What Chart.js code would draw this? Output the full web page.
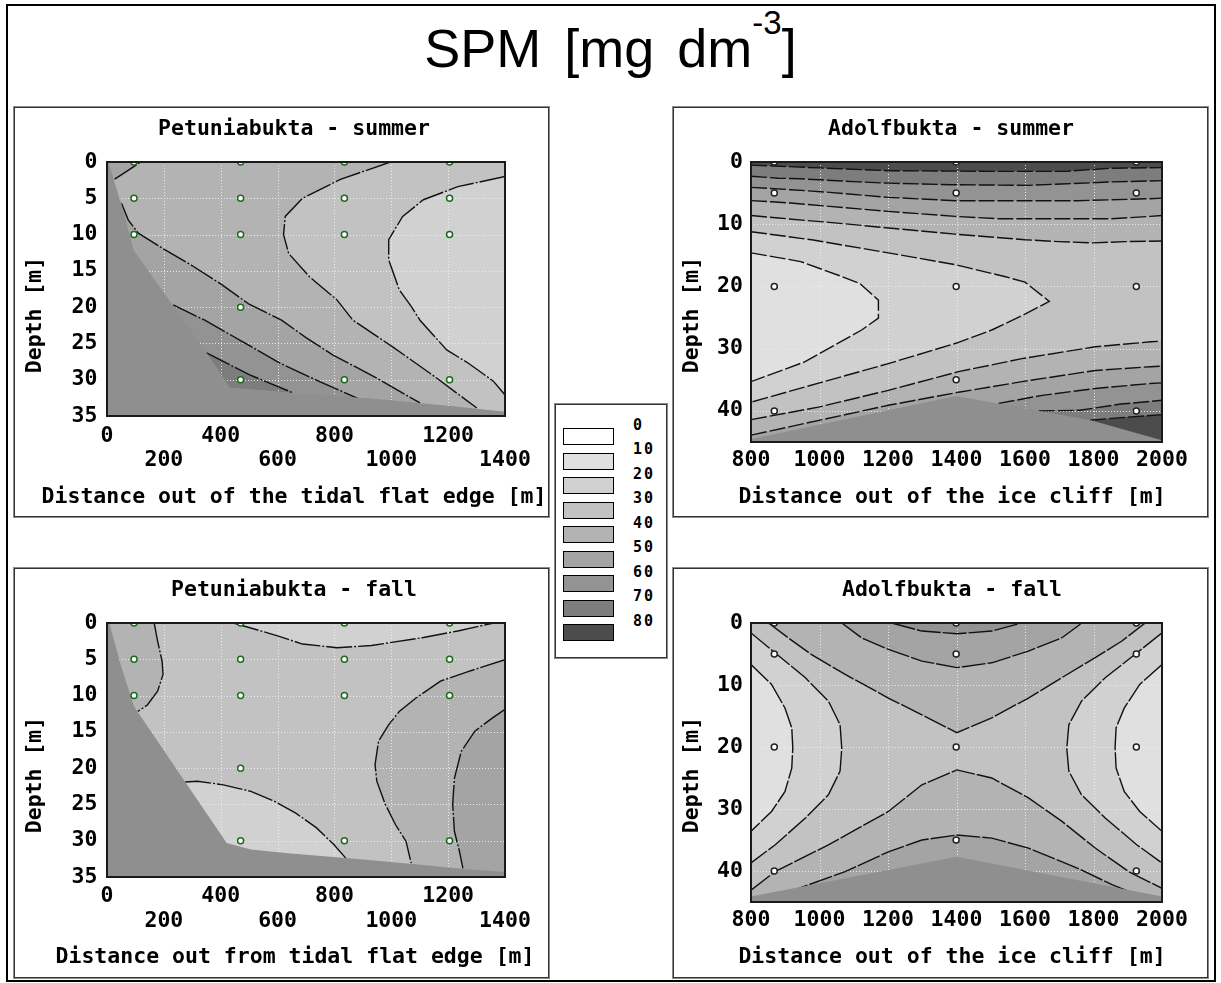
<!DOCTYPE html>
<html>
<head>
<meta charset="utf-8">
<script src="https://cdn.jsdelivr.net/npm/chart.js@4.4.1/dist/chart.umd.min.js"></script>
<style>
  html, body { margin: 0; padding: 0; background: #fff; }
  body { width: 1221px; height: 983px; position: relative; overflow: hidden; }
  #frame { position: absolute; left: 6px; top: 4px; width: 1210px; height: 978px; border: 2px solid #000; box-sizing: border-box; }
  #title { position: absolute; left: 0; top: 22px; width: 1221px; text-align: center; font-family: "Liberation Sans", Arial, sans-serif; font-size: 54px; line-height: 53px; word-spacing: 8px; color: #000; }
  #title .sup { font-size: 33px; line-height: 0; position: relative; top: -33px; }
  .panel { position: absolute; box-sizing: border-box; border: 1px solid #8a8a8a; box-shadow: inset 1px 1px 0 #333, inset -1px -1px 0 #333; background: #fff; }
  .panel canvas { position: absolute; left: 0; top: 0; }
  #legend { position: absolute; left: 554px; top: 403px; width: 114px; height: 256px; box-sizing: border-box; border: 1px solid #8a8a8a; box-shadow: inset 1px 1px 0 #333, inset -1px -1px 0 #333; background: #fff; }
  #legend .sw { position: absolute; left: 8px; width: 51px; height: 17px; box-sizing: border-box; border: 1px solid #000; }
  #legend .lb { position: absolute; left: 78px; height: 16px; line-height: 16px; font-family: "DejaVu Sans Mono", monospace; font-weight: bold; font-size: 15px; letter-spacing: 2px; color: #000; -webkit-font-smoothing: antialiased; }
</style>
</head>
<body>
<div id="frame"></div>
<div id="title">SPM [mg dm<span class="sup">-3</span>]</div>
<div class="panel" style="left:13px;top:106px;width:537px;height:412px"><canvas id="c1" width="535" height="410"></canvas></div>
<div class="panel" style="left:672px;top:106px;width:537px;height:412px"><canvas id="c2" width="535" height="410"></canvas></div>
<div class="panel" style="left:13px;top:567px;width:537px;height:412px"><canvas id="c3" width="535" height="410"></canvas></div>
<div class="panel" style="left:672px;top:567px;width:537px;height:412px"><canvas id="c4" width="535" height="410"></canvas></div>
<div id="legend"></div>
<script>
// legend classes (mg dm-3) and their shades
const legendLabels = ['0', '10', '20', '30', '40', '50', '60', '70', '80'];
const levelColors = ['#ffffff', '#e0e0e0', '#d1d1d1', '#c2c2c2', '#b3b3b3', '#a4a4a4', '#939393', '#7d7d7d', '#4c4c4c'];
const maskColor = '#8f8f8f';

// axis ticks
const petXTicks = [0, 200, 400, 600, 800, 1000, 1200, 1400];
const petYTicks = [0, 5, 10, 15, 20, 25, 30, 35];
const adXTicks = [800, 1000, 1200, 1400, 1600, 1800, 2000];
const adYTicks = [0, 10, 20, 30, 40];

// ---- Petuniabukta - summer  [distance m, depth m]
const petSumStX = [95, 470, 835, 1205];
const petSumStDepth = [[0, 5, 10], [0, 5, 10, 20, 30], [0, 5, 10, 30], [0, 5, 10, 30]];
const petSumL1 = [[27, 2.35], [69, 1.3], [118, 0]];
const petSumB = [[51, 5.7], [75, 8], [110, 9.8], [200, 12], [300, 14.3], [400, 16.8], [500, 19.6], [614, 21.8], [700, 24.2], [795, 26.6], [950, 29.8], [1101, 33.2]];
const petSumC = [[233, 19.7], [344, 21.8], [470, 24.6], [608, 27.7], [750, 30.3], [890, 32.7]];
const petSumTri = [[350, 26.3], [500, 29.3], [654, 31.8]];
const petSumP = [[997, 0], [821, 2.4], [688, 5], [627, 7.5], [621, 10], [639, 12.6], [712, 15.8], [809, 19], [865, 21.8], [1006, 25.5], [1150, 29.5], [1301, 33.9]];
const petSumQ = [[1400, 2], [1234, 3.4], [1113, 5.2], [1040, 7.5], [991, 10.7], [991, 13.5], [1028, 17.6], [1070, 19.9], [1101, 21.8], [1195, 25.9], [1270, 27.7], [1359, 30.2], [1400, 32.1]];
const petSumMask = [[0, 0], [5, 0], [27, 2.9], [57, 6.6], [93, 12.1], [227, 19.5], [350, 26.3], [432, 31.1], [506, 31.4], [700, 32], [930, 32.6], [1200, 33.6], [1400, 34.4], [1400, 35], [0, 35]];

// ---- Petuniabukta - fall
const petFallStX = [95, 470, 835, 1205];
const petFallStDepth = [[0, 5, 10], [0, 5, 10, 20, 30], [0, 5, 10, 30], [0, 5, 10, 30]];
const petFallL1 = [[166, 0], [178, 2.5], [194, 5.3], [197, 7.1], [178, 9.4], [142, 11.3], [108, 12.2]];
const petFallL2 = [[445, 0], [603, 1.8], [688, 2.9], [809, 3.4], [930, 3.1], [1113, 2], [1234, 1.1], [1360, 0]];
const petFallL3 = [[1400, 5.05], [1270, 6.7], [1173, 8], [1088, 10.3], [1028, 12.2], [991, 14], [955, 16.3], [943, 19.5], [949, 21.8], [979, 25], [1015, 27.8], [1052, 30.1], [1070, 33.1]];
const petFallL4 = [[1400, 11.9], [1355, 13.1], [1294, 14.9], [1246, 17.7], [1222, 21.4], [1216, 25], [1222, 28.7], [1240, 31.5], [1252, 33.8]];
const petFallL5 = [[275, 21.9], [318, 21.8], [409, 22.3], [506, 23.2], [591, 24.6], [664, 26.2], [736, 28.2], [797, 30.5], [840, 32.4]];
const petFallMask = [[0, 0], [8, 0], [50, 6], [95, 11.5], [421, 30.3], [506, 31.2], [627, 31.7], [870, 32.5], [1076, 33.2], [1258, 33.9], [1400, 34.3], [1400, 35], [0, 35]];

// ---- Adolfbukta - summer
const adSumStX = [868, 1399, 1925];
const adSumStDepth = [[0, 5, 20, 40], [0, 5, 20, 35], [0, 5, 20, 40]];
const adSumL80 = [[800, 0.5], [1000, 0.95], [1200, 1.4], [1500, 1.5], [1720, 1.5], [1850, 1.0], [2000, 0.9]];
const adSumL70 = [[800, 2.3], [880, 2.6], [945, 2.7], [1115, 3.2], [1201, 3.4], [1387, 3.65], [1610, 3.75], [1707, 3.54], [1854, 3.2], [2000, 3.0]];
const adSumL60 = [[800, 4.07], [915, 4.45], [1030, 4.88], [1201, 5.68], [1299, 5.95], [1396, 6.22], [1750, 6.22], [1966, 5.9], [2000, 5.8]];
const adSumL50 = [[800, 6.2], [860, 6.4], [915, 6.6], [1030, 7.13], [1201, 7.94], [1396, 8.74], [1523, 9.12], [1854, 9.12], [1966, 8.74], [2000, 8.6]];
const adSumL40 = [[800, 8.6], [880, 9.0], [960, 9.4], [1020, 9.65], [1201, 10.6], [1396, 11.6], [1600, 12.5], [1700, 12.8], [1800, 13.0], [1890, 12.8], [2000, 12.7]];
const adSumL30 = [[800, 11.2], [977, 12.5], [1201, 14.6], [1396, 16.5], [1540, 18.4], [1600, 19.3], [1671, 22.4], [1595, 24.6], [1503, 27.0], [1406, 29.0], [1201, 32.4], [1000, 35.5], [800, 38.6]];
const adSumL20 = [[800, 14.6], [945, 16.0], [1065, 18.4], [1117, 19.5], [1172, 22.2], [1172, 25.1], [1123, 27.0], [958, 32.1], [800, 35.3]];
const adSumL40b = [[800, 41.4], [997, 39.4], [1201, 36.7], [1406, 33.7], [1591, 31.6], [1805, 29.7], [1966, 28.9], [2000, 28.8]];
const adSumL50b = [[800, 43.9], [1201, 39.1], [1406, 37.0], [1591, 35.3], [1805, 33.5], [1966, 32.9], [2000, 32.8]];
const adSumL60b = [[1523, 38.8], [1650, 37.5], [1805, 36.4], [1966, 35.6], [2000, 35.5]];
const adSumL70b = [[1640, 40.0], [1760, 39.9], [1880, 38.9], [2000, 38.3]];
const adSumL80b = [[1790, 41.5], [1900, 41.0], [2000, 40.6]];
const adSumMask = [[800, 45], [800, 44.5], [1399, 37.6], [1792, 41.5], [2000, 44.7], [2000, 45]];

// ---- Adolfbukta - fall
const adFallStX = [868, 1399, 1925];
const adFallStDepth = [[0, 5, 20, 40], [0, 5, 20, 35], [0, 5, 20, 40]];
const adFallA1 = [[1211, 0], [1299, 1.3], [1401, 1.73], [1503, 1.3], [1591, 0]];
const adFallA2 = [[1065, 0], [1123, 2.4], [1201, 4.26], [1299, 6.15], [1401, 7.2], [1503, 6.42], [1610, 4.53], [1708, 2.38], [1766, 0]];
const adFallA3 = [[851, 0], [909, 2.4], [977, 5.1], [1075, 8.3], [1201, 12.1], [1299, 14.8], [1401, 17.7], [1503, 15.3], [1610, 12.1], [1708, 8.8], [1805, 5.6], [1883, 2.9], [1951, 0]];
const adFallA4 = [[800, 43.1], [870, 40.1], [1026, 35.8], [1201, 30.4], [1299, 26.1], [1401, 23.7], [1503, 25], [1610, 28.2], [1708, 32], [1805, 36.3], [1903, 40.1], [2000, 42.8]];
const adFallA5 = [[899, 43.6], [1075, 40.1], [1201, 36.9], [1299, 35], [1401, 34.2], [1503, 34.7], [1610, 36.3], [1756, 39.6], [1854, 42.2], [1903, 43.3]];
const adFallS2L = [[800, 1.6], [870, 4.8], [958, 8.8], [1026, 12.6], [1060, 16.4], [1065, 20.2], [1060, 23.9], [1026, 27.7], [958, 31.5], [870, 35.8], [800, 38.7]];
const adFallS1L = [[800, 6.7], [860, 9.9], [899, 13.7], [919, 16.9], [922, 20.1], [919, 23.4], [899, 27.2], [860, 30.4], [800, 33.6]];
const adFallS2R = [[2000, 1.6], [1927, 4.8], [1835, 8.8], [1765, 12.6], [1728, 16.4], [1722, 20.2], [1728, 23.9], [1765, 27.7], [1835, 31.5], [1927, 35.8], [2000, 38.7]];
const adFallS1R = [[2000, 6.7], [1935, 9.9], [1890, 13.7], [1866, 16.9], [1863, 20.1], [1866, 23.4], [1890, 27.2], [1935, 30.4], [2000, 33.6]];
const adFallMask = [[800, 45], [800, 44.1], [1401, 37.7], [2000, 44.1], [2000, 45]];

const petBox = [[0, 0], [1400, 0], [1400, 35], [0, 35]];
const adBox = [[800, 0], [2000, 0], [2000, 45], [800, 45]];

const rev = a => a.slice().reverse();
const toXY = a => a.map(p => ({ x: p[0], y: p[1] }));

const panels = [
  {
    id: 'c1', xTicks: petXTicks, yTicks: petYTicks, xMin: 0, xMax: 1400, yMax: 35, stagger: true,
    lay: { yW: 93, top: 55, right: 44, xH: 101, xPad: 8, yPad: 9.5 },
    txt: { title: 'Petuniabukta - summer', x: 'Distance out of the tidal flat edge [m]', y: 'Depth [m]', tx: 280, ty: 22, xx: 280, xy: 390, yx: 21, yy: 208 },
    bands: [
      [5, petBox],
      [4, [...petSumB, [1150, 35], [1400, 35], [1400, 0], ...rev(petSumL1), [10, 4]]],
      [3, [...petSumP, [1350, 35], [1400, 35], [1400, 0]]],
      [2, petSumQ],
      [6, [...petSumC, [950, 35], [200, 35]]],
      [7, [...petSumTri, [432, 31.1]]]
    ],
    lines: [petSumL1, petSumB, petSumC, petSumTri, petSumP, petSumQ],
    mask: petSumMask, stX: petSumStX, stD: petSumStDepth, stColor: '#1d6b1d', dash: [26, 2, 2, 2]
  },
  {
    id: 'c2', xTicks: adXTicks, yTicks: adYTicks, xMin: 800, xMax: 2000, yMax: 45, stagger: false,
    lay: { yW: 78, top: 55, right: 46, xH: 75, xPad: 6, yPad: 8 },
    txt: { title: 'Adolfbukta - summer', x: 'Distance out of the ice cliff [m]', y: 'Depth [m]', tx: 278, ty: 22, xx: 279, xy: 390, yx: 19, yy: 208 },
    bands: [
      [8, adBox],
      [7, [...adSumL80, ...rev(adSumL80b), [1780, 45], [800, 45]]],
      [6, [...adSumL70, ...rev(adSumL70b), [1630, 45], [800, 45]]],
      [5, [...adSumL60, ...rev(adSumL60b), [1510, 45], [800, 45]]],
      [4, [...adSumL50, ...rev(adSumL50b)]],
      [3, [...adSumL40, ...rev(adSumL40b)]],
      [2, adSumL30],
      [1, adSumL20]
    ],
    lines: [adSumL80, adSumL70, adSumL60, adSumL50, adSumL40, adSumL30, adSumL20, adSumL40b, adSumL50b, adSumL60b, adSumL70b, adSumL80b],
    mask: adSumMask, stX: adSumStX, stD: adSumStDepth, stColor: '#222', dash: [16, 3]
  },
  {
    id: 'c3', xTicks: petXTicks, yTicks: petYTicks, xMin: 0, xMax: 1400, yMax: 35, stagger: true,
    lay: { yW: 93, top: 55, right: 44, xH: 101, xPad: 7.5, yPad: 9.5 },
    txt: { title: 'Petuniabukta - fall', x: 'Distance out from tidal flat edge [m]', y: 'Depth [m]', tx: 280, ty: 22, xx: 281, xy: 389, yx: 21, yy: 207 },
    bands: [
      [3, petBox],
      [4, [...petFallL1, [0, 12.2], [0, 0]]],
      [2, petFallL2],
      [2, [...petFallL5, [800, 35], [300, 35]]],
      [4, [...petFallL3, [1100, 35], [1400, 35]]],
      [5, [...petFallL4, [1300, 35], [1400, 35]]]
    ],
    lines: [petFallL1, petFallL2, petFallL3, petFallL4, petFallL5],
    mask: petFallMask, stX: petFallStX, stD: petFallStDepth, stColor: '#1d6b1d', dash: [26, 2, 2, 2]
  },
  {
    id: 'c4', xTicks: adXTicks, yTicks: adYTicks, xMin: 800, xMax: 2000, yMax: 45, stagger: false,
    lay: { yW: 78, top: 55, right: 46, xH: 76, xPad: 6, yPad: 8 },
    txt: { title: 'Adolfbukta - fall', x: 'Distance out of the ice cliff [m]', y: 'Depth [m]', tx: 279, ty: 22, xx: 279, xy: 389, yx: 19, yy: 207 },
    bands: [
      [3, adBox],
      [4, adFallA3],
      [5, adFallA2],
      [6, adFallA1],
      [4, [...adFallA4, [2000, 45], [800, 45]]],
      [5, [...adFallA5, [1910, 45], [890, 45]]],
      [2, adFallS2L],
      [1, adFallS1L],
      [2, adFallS2R],
      [1, adFallS1R]
    ],
    lines: [adFallA1, adFallA2, adFallA3, adFallA4, adFallA5, adFallS2L, adFallS1L, adFallS2R, adFallS1R],
    mask: adFallMask, stX: adFallStX, stD: adFallStDepth, stColor: '#222', dash: [24, 2]
  }
];

const monoFont = '"DejaVu Sans Mono", monospace';

// grid (dotted, over the bands but under the bottom mask), plot frame and panel texts
function makeDecor(p) {
  return {
    id: 'panelDecor',
    afterDatasetDraw(chart, args) {
      if (!chart.data.datasets[args.index].gridAfter) return;
      const { ctx, chartArea: a, scales: { x, y } } = chart;
      ctx.save();
      ctx.strokeStyle = 'rgba(238,238,238,0.95)';
      ctx.lineWidth = 1;
      ctx.setLineDash([1, 2]);
      x.ticks.forEach(t => {
        if (t.value <= x.min || t.value >= x.max) return;
        const px = Math.round(x.getPixelForValue(t.value)) + 0.5;
        ctx.beginPath(); ctx.moveTo(px, a.top); ctx.lineTo(px, a.bottom); ctx.stroke();
      });
      y.ticks.forEach(t => {
        if (t.value <= y.min || t.value >= y.max) return;
        const py = Math.round(y.getPixelForValue(t.value)) + 0.5;
        ctx.beginPath(); ctx.moveTo(a.left, py); ctx.lineTo(a.right, py); ctx.stroke();
      });
      ctx.restore();
    },
    afterDatasetsDraw(chart) {
      const { ctx, chartArea: a } = chart;
      ctx.save();
      ctx.strokeStyle = '#1a1a1a';
      ctx.lineWidth = 2;
      ctx.strokeRect(a.left, a.top, a.right - a.left, a.bottom - a.top);
      ctx.restore();
    },
    afterDraw(chart) {
      const ctx = chart.ctx;
      const t = p.txt;
      ctx.save();
      ctx.fillStyle = '#000';
      ctx.font = 'bold 21.5px ' + monoFont;
      ctx.textAlign = 'center';
      ctx.textBaseline = 'middle';
      ctx.fillText(t.title, t.tx, t.ty);
      ctx.fillText(t.x, t.xx, t.xy);
      ctx.translate(t.yx, t.yy);
      ctx.rotate(-Math.PI / 2);
      ctx.fillText(t.y, 0, 0);
      ctx.restore();
    }
  };
}

function buildChart(p) {
  const datasets = [];
  p.bands.forEach(([ci, poly]) => datasets.push({
    data: toXY(poly), fill: 'shape', backgroundColor: levelColors[ci],
    borderColor: 'rgba(0,0,0,0)', borderWidth: 0, pointRadius: 0, pointBorderWidth: 0
  }));
  datasets[datasets.length - 1].gridAfter = true;
  p.lines.forEach(l => datasets.push({
    data: toXY(l), fill: false, borderColor: '#111', borderWidth: 1.4,
    borderDash: p.dash, pointRadius: 0, pointBorderWidth: 0
  }));
  datasets.push({
    data: toXY(p.mask), fill: 'shape', backgroundColor: maskColor,
    borderColor: 'rgba(0,0,0,0)', borderWidth: 0, pointRadius: 0, pointBorderWidth: 0
  });
  const stations = [];
  p.stX.forEach((x, i) => p.stD[i].forEach(d => stations.push({ x: x, y: d })));
  datasets.push({
    data: stations, showLine: false, pointRadius: 3, pointBackgroundColor: '#fff',
    pointBorderColor: p.stColor, pointBorderWidth: 1.5
  });
  datasets.forEach((d, i) => { d.order = -i; d.clip = 0; d.tension = 0; });

  const tickFont = { family: monoFont, size: 21.5, weight: 'bold', lineHeight: 1.14 };

  new Chart(document.getElementById(p.id), {
    type: 'line',
    data: { datasets: datasets },
    options: {
      responsive: false,
      animation: false,
      events: [],
      layout: { padding: { top: p.lay.top, right: p.lay.right, bottom: 0, left: 0 } },
      plugins: { legend: { display: false }, tooltip: { enabled: false }, title: { display: false } },
      scales: {
        x: {
          type: 'linear', min: p.xMin, max: p.xMax,
          grid: { display: false, drawTicks: false }, border: { display: false },
          afterBuildTicks: s => { s.ticks = p.xTicks.map(v => ({ value: v })); },
          afterFit: s => { s.height = p.lay.xH; },
          ticks: {
            autoSkip: false, maxRotation: 0, minRotation: 0, padding: p.lay.xPad,
            color: '#000', font: tickFont,
            callback: (v, i) => p.stagger ? (i % 2 ? ['', String(v)] : [String(v), '']) : String(v)
          }
        },
        y: {
          type: 'linear', reverse: true, min: 0, max: p.yMax,
          grid: { display: false, drawTicks: false }, border: { display: false },
          afterBuildTicks: s => { s.ticks = p.yTicks.map(v => ({ value: v })); },
          afterFit: s => { s.width = p.lay.yW; },
          ticks: { autoSkip: false, padding: p.lay.yPad, color: '#000', font: tickFont, callback: v => String(v) }
        }
      }
    },
    plugins: [makeDecor(p)]
  });
}

panels.forEach(buildChart);

// shared legend
const lg = document.getElementById('legend');
levelColors.forEach((c, i) => {
  const sw = document.createElement('div');
  sw.className = 'sw';
  sw.style.top = (24 + i * 24.5) + 'px';
  sw.style.background = c;
  lg.appendChild(sw);
});
legendLabels.forEach((t, i) => {
  const lb = document.createElement('div');
  lb.className = 'lb';
  lb.style.top = (13 + i * 24.45) + 'px';
  lb.textContent = t;
  lg.appendChild(lb);
});
</script>
</body>
</html>
